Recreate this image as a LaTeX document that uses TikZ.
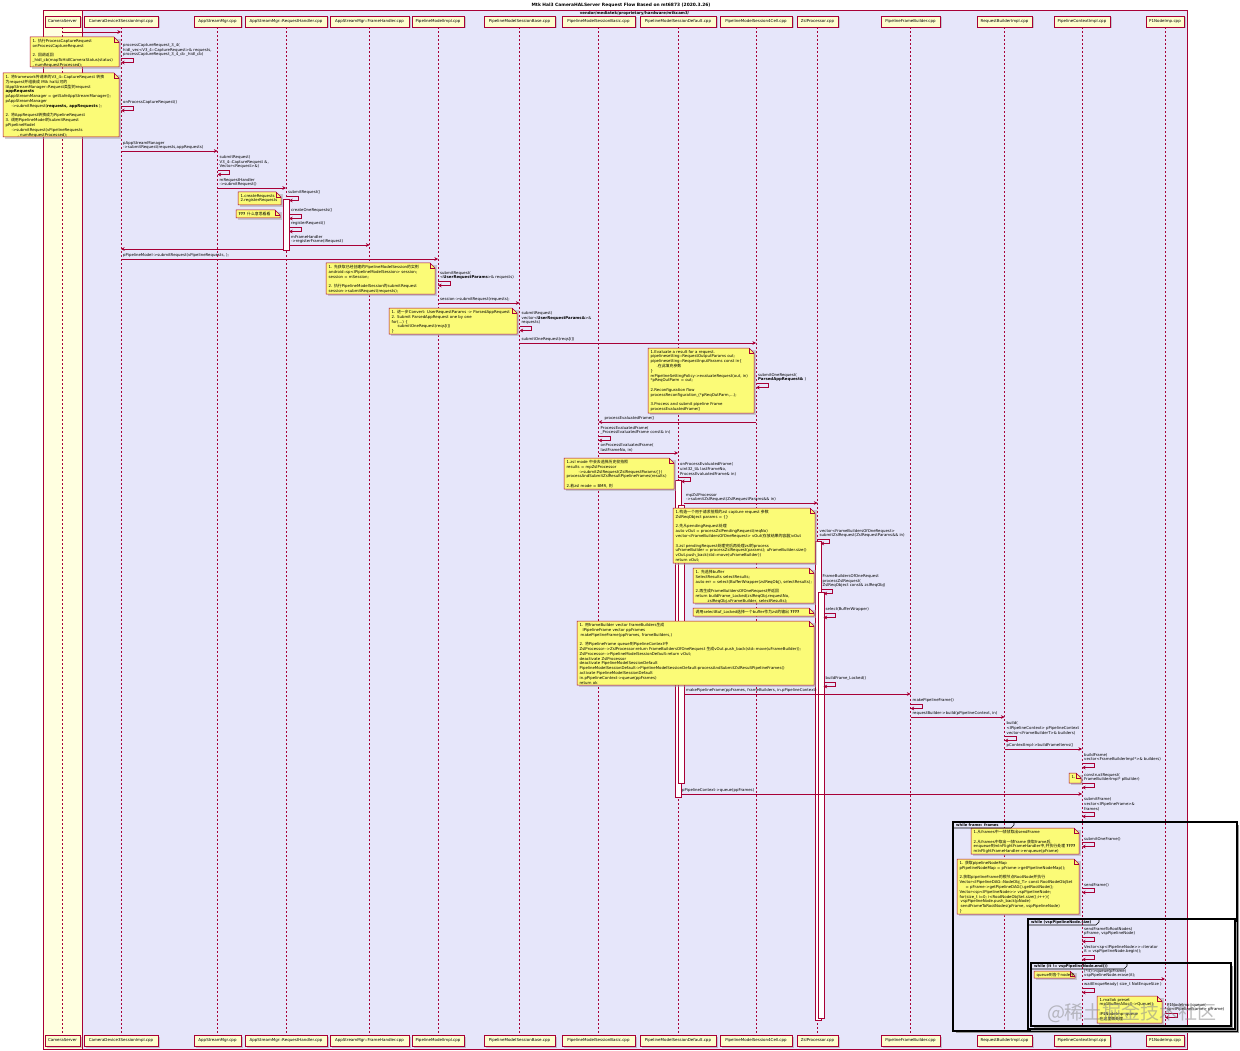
\documentclass[tikz,border=0pt]{standalone}
\usepackage{fontspec}
\setmainfont{DejaVu Sans}[Ligatures=TeXOff]
\newfontfamily\cjk{Noto Sans CJK SC}
\newcommand\zh[1]{{\cjk #1}}
\usetikzlibrary{arrows.meta,calc,shadows}
\definecolor{mred}{HTML}{A80036}
\definecolor{pfill}{HTML}{FEFECE}
\definecolor{nfill}{HTML}{FBFB77}
\definecolor{lav}{HTML}{E6E6FA}
\definecolor{lyel}{HTML}{FFFFE0}
\newcommand\fs{\fontsize{3.9}{4.8}\selectfont}
\tikzset{
 part/.style={draw=mred, fill=pfill, line width=0.5pt, minimum height=11pt, inner sep=0pt,
   font=\fontsize{4}{5}\selectfont, drop shadow={shadow xshift=1.5pt, shadow yshift=-1.5pt, opacity=0.35}},
 lifeline/.style={draw=mred, line width=0.5pt, dash pattern=on 2pt off 2pt},
 msg/.style={draw=mred, line width=0.5pt, -{Stealth[length=3.6pt,width=3.6pt]}},
 lbl/.style={anchor=south west, align=left, inner sep=0pt, font=\fs},
 notetxt/.style={anchor=north west, align=left, inner sep=0pt, font=\fs},
 notebox/.style={draw=mred, fill=nfill, line width=0.5pt},
 abar/.style={draw=mred, fill=white, line width=0.5pt},
 fragbox/.style={draw=black, line width=1.1pt}
}
\newcommand\unote[6]{%
 \fill[black!35,opacity=.5] ({#2+2},{#3+2}) rectangle ({#4+2},{#5+2});
 \draw[notebox] (#2,#3) -- ({#4-5},#3) -- (#4,{#3+5}) -- (#4,#5) -- (#2,#5) -- cycle;
 \draw[notebox, fill=none] ({#4-5},#3) -- ({#4-5},{#3+5}) -- (#4,{#3+5});
 \node[notetxt] (#1) at ({#2+2.5},{#3+2}) {#6};
}
\newcommand\selfm[6]{%
 \draw[msg] ($(#1 |- 0,#4)+(#2,0)$) -- ++(12,0) -- ++(0,4.5) -- ($(#1 |- 0,#4)+(#3,4.5)$);
 \node[lbl] (#5) at ($(#1 |- 0,#4)+(#2+2,-1)$) {#6};
}
\newcommand\frag[7]{%
 \draw[black!40, line width=1.4pt] ({#2+3},{#5+1.6}) -- ({#4+1.6},{#5+1.6}) -- ({#4+1.6},{#3+3});
 \draw[fragbox] (#2,#3) rectangle (#4,#5);
 \draw[black, line width=0.6pt] (#2,{#3+6}) -- ({#6-3},{#3+6}) -- (#6,{#3+3}) -- (#6,#3);
 \node[anchor=west, inner sep=0pt, font=\bfseries\fontsize{3.7}{4.5}\selectfont] (#1) at ({#2+3},{#3+3.2}) {#7};
}
\begin{document}
\begin{tikzpicture}[x=1pt,y=-1pt]
\useasboundingbox (0,0) rectangle (1240,1051);
\fill[white] (0,0) rectangle (1240,1051);
\node[font=\bfseries\fontsize{4.4}{5}\selectfont, inner sep=0pt] (title) at (621,5) {Mtk Hal3 CameraHALServer Request Flow Based on mt6873 (2020.3.26)};
\fill[lyel] (43,10) rectangle (82,1049);
\fill[lav] (82,10) rectangle (1187,1049);
\draw[mred, line width=.6pt] (43,10) rectangle (82,1049);
\draw[mred, line width=.6pt] (82,10) rectangle (1187,1049);
\node[font=\bfseries\fs, inner sep=0pt] (boxttl) at (634.5,13) {vendor/mediatek/proprietary/hardware/mtkcam3/};

\foreach \n/\x/\w/\t in {CS/62.5/35/CameraServer, CD/121/74/CameraDevice3SessionImpl.cpp,
  ASM/217.5/47/AppStreamMgr.cpp, RH/286/82/AppStreamMgr::RequestHandler.cpp,
  FH/369.5/79/AppStreamMgr::FrameHandler.cpp, PMI/438/52/PipelineModelImpl.cpp,
  SB/519.5/71/PipelineModelSessionBase.cpp, BA/598.5/73/PipelineModelSessionBasic.cpp,
  DF/678/76/PipelineModelSessionDefault.cpp, FC/756/72/PipelineModelSession4Cell.cpp,
  ZS/817.5/41/ZslProcessor.cpp, FB/910.5/59/PipelineFrameBuilder.cpp,
  RB/1004.5/55/RequestBuilderImpl.cpp, PC/1082/56/PipelineContextImpl.cpp, PN/1165/38/P1NodeImp.cpp}{
  \node[part, minimum width=\w pt] (p\n) at (\x,21.5) {\t};
  \node[part, minimum width=\w pt] (b\n) at (\x,1040.5) {\t};
}
\foreach \n in {CS,CD,ASM,RH,FH,PMI,SB,BA,DF,FC,ZS,FB,RB,PC,PN}
  \draw[lifeline] (p\n.south) -- (b\n.north);

% activation bars
\draw[abar] (283,199) rectangle (289,250);
\draw[abar] (675,480) rectangle (681,797);
\draw[abar] (678,505) rectangle (684,783);
\draw[abar] (815,541) rectangle (821,1020);
\draw[abar] (818,592) rectangle (824,1018);

% notes
\unote{n1}{30}{37}{119}{67}{1. \zh{执行}ProcessCaptureRequest\\onProcessCaptureRequest\\[4.8pt]2. \zh{回调返回}\\\_hidl\_cb(mapToHidlCameraStatus(status)\\, numRequestProcessed);}
\unote{n2}{3}{73}{119}{137}{1. \zh{将}framework\zh{传递来的}V3\_4::CaptureRequest \zh{转换}\\\zh{为}request\zh{并组装成} Mtk hal\zh{认可的}\\IAppStreamManager::Request\zh{类型的}request\\\textbf{appRequests}\\pAppStreamManager = getSafeAppStreamManager();\\pAppStreamManager\\\hspace*{6pt}->submitRequest(\textbf{requests, appRequests} );\\[4.8pt]2. \zh{将}AppRequest\zh{转换成为}PipelineRequest\\3. \zh{调用}PipelineModel\zh{的}submitRequest\\pPipelineModel\\\hspace*{6pt}->submitRequest(vPipelineRequests\\\hspace*{12pt}, numRequestProcessed);}
\unote{n3}{238}{192}{281}{205}{1.createRequests\\2.registerRequests}
\unote{n4}{236}{210}{280}{218}{\textbf{???} \zh{什么意思看看}}
\unote{n5}{326}{263}{435}{294}{1. \zh{先获取已经创建的}PipelineModelSession\zh{的实例}\\android::sp<IPipelineModelSession> session;\\session = mSession;\\[4.8pt]2. \zh{执行}PipelineModelSession\zh{的}submitRequest\\session->submitRequest(requests);}
\unote{n6}{389}{308}{517}{334}{1. \zh{进一步}Convert: UserRequestParams -> ParsedAppRequest\\2. Submit ParsedAppRequest one by one\\for(...) \{\\\hspace*{6pt}submitOneRequest(reqs[i])\\\}}
\unote{n7}{648}{348}{754}{413}{1.Evaluate a result for a request.\\pipelinesetting::RequestOutputParams out;\\pipelinesetting::RequestInputParams const in\{\\\hspace*{6pt}.\zh{在此填充参数}\\\}\\mPipelineSettingPolicy->evaluateRequest(out, in)\\*pReqOutParm = out;\\[4.8pt]2.Reconfiguration flow\\processReconfiguration\_(*pReqOutParm,...);\\[4.8pt]3.Process and submit pipeline Frame\\processEvaluatedFrame()}
\unote{n8}{564}{458}{674}{489}{1.zsl mode \zh{中会去选择历史帧拍照}\\results = mpZslProcessor\\\hspace*{12pt}->submitZslRequest(ZslRequestParams\{\})\\processAndSubmitZslResultPipelineFrames(results)\\[4.8pt]2.\zh{若}zsl mode = BMR, \zh{则}}
\unote{n9}{673}{508}{815}{563}{1.\zh{构造一个用于请求拍照的}zsl capture request \zh{参数}\\ZslReqObject params = \{\}\\[4.8pt]2.\zh{先从}pendingRequest\zh{处理}\\auto vOut = processZslPendingRequest(reqNo)\\vector<FrameBuildersOfOneRequest> vOut(\zh{存放结果的容器})vOut\\[4.8pt]3.zsl pendingRequest\zh{处理完后再处理}zsl\zh{的}process\\uFrameBuilder = processZslRequest(params); uFrameBuilder.size()\\vOut.push\_back(std::move(uFrameBuilder))\\return vOut;}
\unote{n10}{693}{568}{814}{603}{1. \zh{先选择}buffer\\SelectResults selectResults;\\auto err = select(BufferWrapper(zslReqObj), selectResults);\\[4.8pt]2.\zh{再生成}FrameBuildersOfOneRequest\zh{并返回}\\return buildFrame\_Locked(zslReqObj.requestNo,\\\hspace*{12pt}zslReqObj.vFrameBuilder, selectResults);}
\unote{n11}{693}{608}{814}{616}{\zh{调用}selectBuf\_Locked\zh{选择一个}buffer\zh{作为}zsl\zh{的输出} \textbf{????}}
\unote{n12}{577}{621}{814}{685}{1. \zh{用}frameBuilder vector frameBuilders\zh{生成}\\\hspace*{3pt}IPipelineFrame vector ppFrames\\\hspace*{1pt}makePipelineFrame(ppFrames, frameBuilders,)\\[4.8pt]2. \zh{将}PipelineFrame queue\zh{到}PipelineContext\zh{中}\\ZslProcessor-{}->ZslProcessor:return FrameBuildersOfOneRequest \zh{生成}vOut.push\_back(std::move(uFrameBuilder));\\ZslProcessor-{}->PipelineModelSessionDefault:return vOut;\\deactivate ZslProcessor\\deactivate PipelineModelSessionDefault\\PipelineModelSessionDefault->PipelineModelSessionDefault:processAndSubmitZslResultPipelineFrames()\\activate PipelineModelSessionDefault\\in.pPipelineContext->queue(ppFrames)\\return ok}
\unote{n13}{1069}{773}{1081}{783}{1.}
\unote{n14}{971}{828}{1079}{854}{1.\zh{从}frames\zh{中一帧帧取出}sendFrame\\[4.8pt]2.\zh{从}frames\zh{中取出一帧}frame \zh{获取}frame\zh{后},\\enqueue\zh{到}mInFlightFrameHandler\zh{中},\zh{并执行处理} \textbf{????}\\mInFlightFrameHandler->enqueue(pFrame)}
\unote{n15}{957}{859}{1079}{914}{1. \zh{获取}pipelineNodeMap\\pPipelineNodeMap = pFrame->getPipelineNodeMap();\\[4.8pt]2.\zh{获取}pipelineFrame\zh{的根节点}RootNode\zh{并执行}\\Vector<IPipelineDAG::NodeObj\_T> const RootNodeObjSet\\\hspace*{6pt}= pFrame->getPipelineDAG().getRootNode();\\Vector<sp<IPipelineNode>> vspPipelineNode;\\for(size\_t i=0; i<RootNodeObjSet.size();i++)\{\\\hspace*{1pt}vspPipelineNode.push\_back(pNode)\\\hspace*{1pt}sendFrameToRootNodes(pFrame, vspPipelineNode)\\\}}
\unote{n16}{1034}{971}{1075}{978}{queue\zh{到各个}node\zh{中}}
\unote{n17}{1097}{996}{1162}{1023}{1.mallok preset\\mp1BufferAlloc()->Queue();\\\hspace*{6pt}...\\IP1NodeImp::queue\\\zh{在这里做处理}}

% messages
\draw[msg] (pCS |- 0,32) -- (pCD |- 0,32);
\selfm{pCD}{0}{0}{58}{s1}{processCaptureRequest\_3\_4(\\hidl\_vec<V3\_4::CaptureRequest>\& requests,\\processCaptureRequest\_3\_4\_cb \_hidl\_cb)}
\selfm{pCD}{0}{0}{106}{s2}{onProcessCaptureRequest()}
\draw[msg] (pCD |- 0,151) -- (pASM |- 0,151);
\node[lbl] (m2) at ($(pCD |- 0,150)+(2,0)$) {pAppStreamManager\\->submitRequest(requests,appRequests)};
\selfm{pASM}{0}{0}{170}{s3}{submitRequest(\\V3\_4::CaptureRequest \&,\\Vector<Request>\&)}
\draw[msg] (pASM |- 0,188) -- (pRH |- 0,188);
\node[lbl] (m3) at ($(pASM |- 0,187)+(2,0)$) {mRequestHandler\\->submitRequest()};
\selfm{pRH}{0}{3}{196}{s4}{submitRequest()}
\selfm{pRH}{3}{3}{214}{s5}{createOneRequests()}
\selfm{pRH}{3}{3}{227}{s6}{registerRequest()}
\draw[msg] ($(pRH |- 0,245)+(3,0)$) -- (pFH |- 0,245);
\node[lbl] (m4) at ($(pRH |- 0,244)+(5,0)$) {mFrameHandler\\->registerFrame(iRequest)};
\draw[msg] ($(pRH |- 0,249)+(-3,0)$) -- (pCD |- 0,249);
\draw[msg] (pCD |- 0,259) -- (pPMI |- 0,259);
\node[lbl] (m6) at ($(pCD |- 0,258)+(2,0)$) {pPipelineModel->submitRequest(vPipelineRequests, );};
\selfm{pPMI}{0}{0}{281}{s7}{submitRequest(\\<\textbf{UserRequestParams}>\& requests)}
\draw[msg] (pPMI |- 0,303) -- (pSB |- 0,303);
\node[lbl] (m7) at ($(pPMI |- 0,302)+(2,0)$) {session->submitRequest(requests);};
\selfm{pSB}{0}{0}{326}{s8}{submitRequest(\\vector<\textbf{UserRequestParams\&}>\&\\requests)}
\draw[msg] (pSB |- 0,343) -- (pFC |- 0,343);
\node[lbl] (m8) at ($(pSB |- 0,342)+(2,0)$) {submitOneRequest(reqs[i])};
\selfm{pFC}{0}{0}{383}{s9}{submitOneRequest(\\\textbf{ParsedAppRequest\&} )}
\draw[msg] (pFC |- 0,422) -- (pBA |- 0,422);
\node[lbl] (m9) at ($(pBA |- 0,421)+(6,0)$) {processEvaluatedFrame()};
\selfm{pBA}{0}{0}{436}{s10}{ProcessEvaluatedFrame(\\\_ProcessEvaluatedFrame const\& in)}
\draw[msg] (pBA |- 0,453) -- (pDF |- 0,453);
\node[lbl] (m10) at ($(pBA |- 0,452)+(2,0)$) {onProcessEvaluatedFrame(\\lastFrameNo, in)};
\selfm{pDF}{0}{3}{477}{s11}{onProcessEvaluatedFrame(\\uint32\_t\& lastFrameNo,\\ProcessEvaluatedFrame\& in)}
\draw[msg] ($(pDF |- 0,503)+(6,0)$) -- (pZS |- 0,503);
\node[lbl] (m11) at ($(pDF |- 0,502)+(8,0)$) {mpZslProcessor\\->submitZslRequest(ZslRequestParams\&\& in)};
\selfm{pZS}{0}{3}{539}{s12}{vector<FrameBuildersOfOneRequest>\\submitZslRequest(ZslRequestParams\&\& in)}
\selfm{pZS}{3}{6}{589}{s13}{FrameBuildersOfOneRequest\\processZslRequest(\\ZslReqObject const\& zslReqObj)}
\selfm{pZS}{6}{6}{613}{s14}{select(BufferWrapper)}
\selfm{pZS}{6}{6}{682}{s15}{buildFrame\_Locked()}
\draw[msg] ($(pDF |- 0,694)+(6,0)$) -- (pFB |- 0,694);
\node[lbl] (m12) at ($(pDF |- 0,693)+(8,0)$) {makePipelineFrame(ppFrames, frameBuilders, in.pPipelineContext)};
\selfm{pFB}{0}{0}{704}{s16}{makePipelineFrame()}
\draw[msg] (pFB |- 0,717) -- (pRB |- 0,717);
\node[lbl] (m13) at ($(pFB |- 0,716)+(2,0)$) {requestBuilder->build(pPipelineContext, in)};
\selfm{pRB}{0}{0}{736}{s17}{build(\\<IPipelineContext> pPipelineContext\\vector<FrameBuilderT>\& builders)}
\draw[msg] (pRB |- 0,749) -- (pPC |- 0,749);
\node[lbl] (m14) at ($(pRB |- 0,748)+(2,0)$) {pContextImpl->buildFrameItems()};
\selfm{pPC}{0}{0}{763}{s18}{buildFrame(\\vector<FrameBuilderImpl*>\& builders)}
\selfm{pPC}{0}{0}{783}{s19}{constructRequest(\\FrameBuilderImpl* pBuilder)}
\draw[msg] ($(pDF |- 0,794)+(3,0)$) -- (pPC |- 0,794);
\node[lbl] (m15) at ($(pDF |- 0,793)+(4,0)$) {pPipelineContext->queue(ppFrames)};
\selfm{pPC}{0}{0}{812}{s20}{submitFrame(\\vector<IPipelineFrame>\&\\frames)}

% loops
\frag{f1}{953}{822}{1237}{1031}{1014}{while frame: frames}
\selfm{pPC}{0}{0}{842}{s21}{submitOneFrame()}
\selfm{pPC}{0}{0}{888}{s22}{sendFrame()}
\frag{f2}{1028}{919}{1235}{1029}{1099}{while (vspPipelineNode.size)}
\selfm{pPC}{0}{0}{937}{s23}{sendFrameToRootNodes(\\pFrame, vspPipelineNode)}
\selfm{pPC}{0}{0}{955}{s24}{Vector<sp<IPipelineNode>>::iterator\\it = vspPipelineNode.begin();}
\frag{f3}{1031}{963}{1231}{1026}{1127}{while (it != vspPipelineNode.end())}
\draw[msg] (pPC |- 0,979) -- (pPN |- 0,979);
\node[lbl] (m16) at ($(pPC |- 0,978)+(2,0)$) {(*it)->queue(pFrame)\\vspPipelineNode.erase(it);};
\selfm{pPC}{0}{0}{988}{s25}{waitEnqueReady( size\_t NotEnqueSize )}
\selfm{pPN}{0}{0}{1013}{s26}{P1NodeImp::queue(\\sp<IPipelineFrame> pFrame)}

\node[font=\cjk\fontsize{19}{19}\selectfont, text=black!45, opacity=.55, inner sep=0pt] (wm) at (1132,1013) {@稀土掘金技术社区};
\end{tikzpicture}
\end{document}
